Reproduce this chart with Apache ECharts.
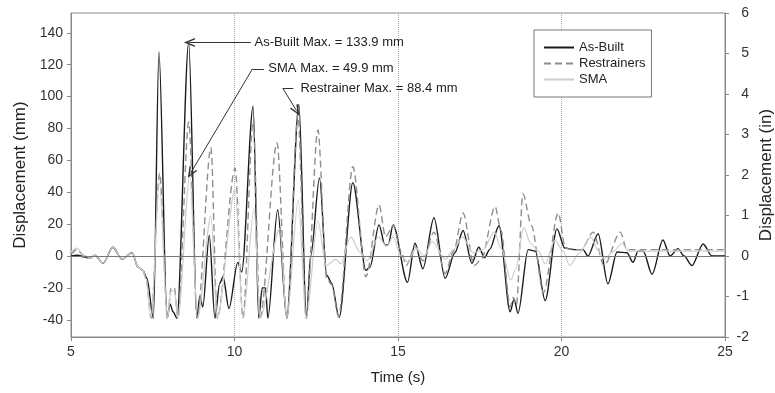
<!DOCTYPE html>
<html><head><meta charset="utf-8">
<script src="https://cdn.jsdelivr.net/npm/echarts@6/dist/echarts.min.js"></script>
<style>html,body{margin:0;padding:0;background:#fff}#c{width:775px;height:393px}</style>
</head><body><div id="c"></div>
<script>
// Time (s), displacement (mm)
const asBuilt = [[5.0,0],[5.2,0.5],[5.4,-0.5],[5.58,-1.5],[5.73,0.5],[5.98,-4.5],[6.28,5.5],[6.56,-2],[6.87,2],[7.05,-7],[7.2,-9],[7.32,-14],[7.52,-39],[7.69,128],[7.94,-39],[8.03,-30],[8.12,-35],[8.24,-39],[8.6,133.9],[8.85,-39],[8.94,-25],[9.03,-32],[9.23,13],[9.4,-39],[9.55,-17],[9.65,-13],[9.83,-33],[10.1,-4],[10.22,-10],[10.57,94],[10.74,-39],[10.85,-20],[10.95,-20],[11.02,-39],[11.32,29],[11.6,-39],[11.97,95],[12.2,-39],[12.33,0],[12.6,49],[12.82,-12],[12.97,-17],[13.2,-38.5],[13.62,46],[14.02,-9],[14.14,-7],[14.42,19.5],[14.6,7],[14.7,7],[14.85,19.5],[15.29,-16.5],[15.52,8],[15.76,-8],[16.1,24],[16.44,-14],[16.74,2],[16.99,16],[17.26,-4.5],[17.47,5.5],[17.65,-1],[17.8,4],[18.09,19],[18.43,-35],[18.55,-27],[18.67,-36],[18.98,4],[19.2,3],[19.5,-28],[19.86,17],[20.1,5],[20.4,4],[20.66,4],[20.81,0],[21.12,14],[21.42,-17.5],[21.7,2.5],[22.0,2],[22.19,-4],[22.34,3],[22.5,3],[22.77,-11.5],[23.1,10],[23.32,0],[23.56,4.5],[23.75,0],[23.99,-6],[24.33,7.5],[24.6,0],[25,0]];
const restrainers = [[5.0,1],[5.18,4],[5.4,0],[5.58,-1.5],[5.73,0.5],[5.98,-4.5],[6.28,5.5],[6.56,-2],[6.87,2],[7.05,-7],[7.2,-9],[7.3,-15],[7.45,-39],[7.71,52],[7.95,-39],[8.06,-20],[8.16,-20],[8.27,-39],[8.6,84],[8.86,-39],[9.28,68],[9.47,-39],[10.02,55],[10.26,-39],[10.57,85],[10.78,-39],[11.3,71],[11.6,-39],[11.94,88.4],[12.19,-39],[12.55,79],[12.82,-14],[12.97,-18],[13.18,-38],[13.62,56],[14.02,-13],[14.42,32],[14.62,12],[14.85,19],[15.1,3],[15.25,-6],[15.52,6],[15.76,-3],[16.1,15],[16.44,-11],[16.7,3],[16.99,27],[17.33,-6],[17.55,-2],[17.97,31],[18.15,16],[18.43,-32],[18.52,-26],[18.62,-31],[18.82,39],[19.08,19],[19.45,-23],[19.9,27],[20.12,5],[20.3,4],[20.6,4],[20.97,15],[21.3,-6],[21.8,15],[22.0,4],[25,4]];
const sma = [[5.0,2.5],[5.18,5],[5.4,0.5],[5.58,-1.5],[5.73,0.5],[5.98,-4.5],[6.28,5.5],[6.56,-2],[6.87,2],[7.05,-7],[7.2,-9],[7.3,-15],[7.45,-39],[7.7,47],[7.95,-39],[8.06,-22],[8.16,-22],[8.27,-39],[8.63,49.9],[8.87,-39],[9.28,25],[9.47,-39],[10.02,42],[10.26,-39],[10.6,30],[10.78,-39],[11.38,17],[11.6,-39],[11.95,35],[12.19,-39],[12.55,22],[12.8,-6],[13.1,-2],[13.25,-5],[13.55,12],[13.85,2],[14.05,-3],[14.4,12],[14.65,6],[14.85,12],[15.1,0],[15.3,-4],[15.55,5],[15.8,0],[16.05,9],[16.45,-2],[16.7,4],[16.97,12],[17.3,2],[17.6,4],[17.95,15],[18.15,5],[18.45,-15],[18.6,-8],[18.85,18],[19.05,8],[19.3,3],[19.5,-5],[19.8,10],[20.05,3],[20.25,-6],[20.55,2],[20.9,12],[21.1,4],[21.3,-2],[21.6,3],[21.85,8],[22.05,3],[25,3]];
const mmTicks = [-40,-20,0,20,40,60,80,100,120,140];
const seriesNames = ['As-Built','Restrainers','SMA'];
const notes = [
  {text:'As-Built Max. = 133.9 mm', at:[10.6,133.9]},
  {text:'SMA Max. = 49.9 mm', at:[11.02,117.4]},
  {text:'Restrainer Max. = 88.4 mm', at:[12.0,105.1]}
];

const FONT = 'Liberation Sans, Arial, sans-serif';
const chevron = 'path://M0,12 L6,0 L12,12 L10,12 L6,4 L2,12 Z';
const arrowEnd = {symbol: chevron, symbolSize: [9, 11]};

const chart = echarts.init(document.getElementById('c'), null, {renderer: 'canvas'});
chart.setOption({
  animation: false,
  backgroundColor: '#fff',
  textStyle: {fontFamily: FONT},
  grid: {left: 71, right: 50, top: 13, bottom: 56, show: true, borderColor: '#888', borderWidth: 1,
         containLabel: false, outerBoundsMode: 'none'},
  legend: {
    orient: 'vertical', left: 534, top: 30,
    itemWidth: 30, itemHeight: 10, itemGap: 3,
    padding: [11, 6, 11, 9],
    itemStyle: {opacity: 0},
    borderColor: '#777', borderWidth: 1, backgroundColor: '#fff',
    textStyle: {fontSize: 13, color: '#222', fontFamily: FONT},
    data: seriesNames
  },
  xAxis: {
    type: 'value', min: 5, max: 25, interval: 5,
    axisLine: {show: true, onZero: false, lineStyle: {color: '#888'}},
    axisTick: {show: true, length: 4, lineStyle: {color: '#888'}},
    axisLabel: {color: '#333', fontSize: 14, margin: 8, fontFamily: FONT},
    splitLine: {show: true, lineStyle: {color: '#aaa', type: 'dotted'}},
    name: 'Time (s)', nameLocation: 'middle', nameGap: 33,
    nameTextStyle: {fontSize: 15, color: '#222', fontFamily: FONT}
  },
  yAxis: [{
    type: 'value', position: 'left', min: -50.8, max: 152.4,
    axisLine: {show: true, onZero: false, lineStyle: {color: '#888'}},
    axisTick: {show: true, length: 4, customValues: mmTicks, lineStyle: {color: '#888'}},
    axisLabel: {color: '#333', fontSize: 14, margin: 8, customValues: mmTicks, fontFamily: FONT},
    splitLine: {show: false},
    name: 'Displacement (mm)', nameLocation: 'middle', nameGap: 42, nameRotate: 90, nameMoveOverlap: false,
    nameTextStyle: {fontSize: 17, color: '#222', fontFamily: FONT}
  }, {
    type: 'value', position: 'right', min: -2, max: 6, interval: 1,
    axisLine: {show: true, onZero: false, lineStyle: {color: '#888'}},
    axisTick: {show: true, length: 4, lineStyle: {color: '#888'}},
    axisLabel: {color: '#333', fontSize: 14, margin: 24, align: 'right', fontFamily: FONT},
    splitLine: {show: false},
    name: 'Displacement (in)', nameLocation: 'middle', nameGap: 33, nameRotate: 90, nameMoveOverlap: false,
    nameTextStyle: {fontSize: 17, color: '#222', fontFamily: FONT}
  }],
  series: [{
    name: seriesNames[0], type: 'line', data: asBuilt, yAxisIndex: 0,
    symbol: 'none', smooth: 0.3, smoothMonotone: 'x',
    lineStyle: {color: '#1a1a1a', width: 1.4}, itemStyle: {color: '#1a1a1a'},
    markLine: {
      silent: true, animation: false, symbol: ['none', 'none'], label: {show: false},
      lineStyle: {color: '#777', width: 1, type: 'solid'},
      data: [{yAxis: 0}]
    }
  }, {
    name: seriesNames[1], type: 'line', data: restrainers, yAxisIndex: 0,
    symbol: 'none', smooth: 0.3, smoothMonotone: 'x',
    lineStyle: {color: '#8e8e8e', width: 1.4, type: [7, 4]}, itemStyle: {color: '#8e8e8e'}
  }, {
    name: seriesNames[2], type: 'line', data: sma, yAxisIndex: 0,
    symbol: 'none', smooth: 0.3, smoothMonotone: 'x',
    lineStyle: {color: '#cdcdcd', width: 1.2}, itemStyle: {color: '#cdcdcd'},
    markLine: {
      silent: true, animation: false, symbol: ['none', 'none'], label: {show: false},
      lineStyle: {color: '#333', width: 1, type: 'solid'},
      data: [
        [{coord: [10.5, 133.9]}, Object.assign({coord: [8.62, 133.9]}, arrowEnd)],
        [{coord: [10.9, 117.4]}, {coord: [10.55, 117.4]}],
        [{coord: [10.55, 117.4]}, Object.assign({coord: [8.66, 52]}, arrowEnd)],
        [{coord: [11.8, 105.1]}, {coord: [11.48, 105.1]}],
        [{coord: [11.48, 105.1]}, Object.assign({coord: [11.9, 91]}, arrowEnd)]
      ]
    },
    markPoint: {
      silent: true, animation: false, symbol: 'circle', symbolSize: 1,
      itemStyle: {color: 'rgba(0,0,0,0)'},
      label: {show: true, position: 'right', distance: 0, color: '#222', fontSize: 13, fontFamily: FONT},
      data: notes.map(n => ({coord: n.at, label: {formatter: n.text}}))
    }
  }]
});
</script>
</body></html>
